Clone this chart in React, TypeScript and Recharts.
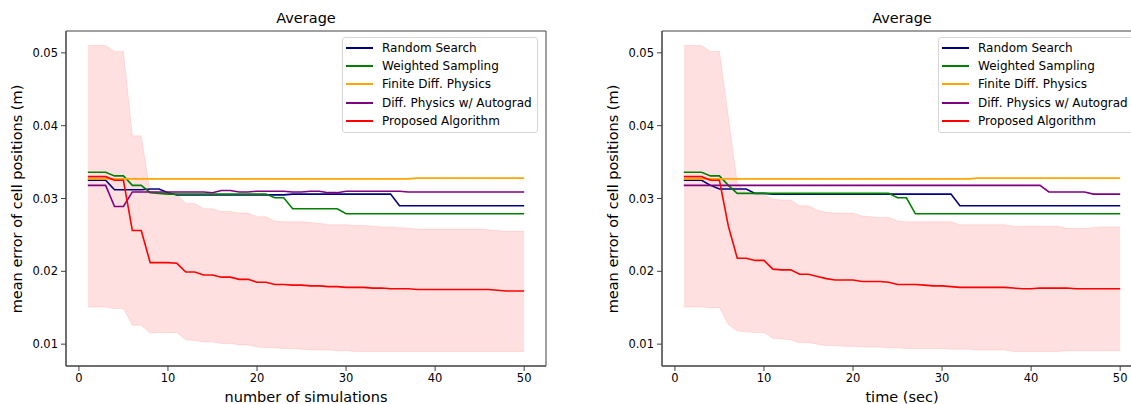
import React from 'react'
import { ComposedChart, Line, Area, XAxis, YAxis, ReferenceArea, Legend } from 'recharts'

// x values: number of simulations / time (sec)
const steps = [
  1, 2, 3, 4, 5, 6, 7, 8, 9, 10, 11, 12, 13, 14, 15, 16, 17, 18, 19, 20, 21, 22, 23, 24, 25,
  26, 27, 28, 29, 30, 31, 32, 33, 34, 35, 36, 37, 38, 39, 40, 41, 42, 43, 44, 45, 46, 47, 48, 49, 50,
]

const xTicks = [0, 10, 20, 30, 40, 50]
const yTicks = [0.01, 0.02, 0.03, 0.04, 0.05]

const seriesNames = [
  'Random Search',
  'Weighted Sampling',
  'Finite Diff. Physics',
  'Diff. Physics w/ Autograd',
  'Proposed Algorithm',
]
const seriesColors = ['#000080', '#008000', '#ffa500', '#800080', '#ff0000']

// ---- left panel: number of simulations ----
const rsSim = [
  0.0325, 0.0325, 0.0325, 0.0312, 0.0312, 0.0312, 0.0312, 0.0313, 0.0313, 0.0308,
  0.0305, 0.0305, 0.0305, 0.0305, 0.0305, 0.0305, 0.0305, 0.0305, 0.0305, 0.0305,
  0.0305, 0.0305, 0.0305, 0.0306, 0.0306, 0.0306, 0.0306, 0.0306, 0.0306, 0.0306,
  0.0306, 0.0306, 0.0306, 0.0306, 0.0306, 0.029, 0.029, 0.029, 0.029, 0.029,
  0.029, 0.029, 0.029, 0.029, 0.029, 0.029, 0.029, 0.029, 0.029, 0.029,
]
const wsSim = [
  0.0336, 0.0336, 0.0336, 0.0331, 0.0331, 0.0318, 0.0318, 0.0308, 0.0307, 0.0306,
  0.0306, 0.0306, 0.0306, 0.0306, 0.0306, 0.0306, 0.0306, 0.0306, 0.0306, 0.0306,
  0.0306, 0.0301, 0.0301, 0.0286, 0.0286, 0.0286, 0.0286, 0.0286, 0.0286, 0.0279,
  0.0279, 0.0279, 0.0279, 0.0279, 0.0279, 0.0279, 0.0279, 0.0279, 0.0279, 0.0279,
  0.0279, 0.0279, 0.0279, 0.0279, 0.0279, 0.0279, 0.0279, 0.0279, 0.0279, 0.0279,
]
const fdSim = [
  0.0327, 0.0327, 0.0327, 0.0327, 0.0327, 0.0327, 0.0327, 0.0327, 0.0327, 0.0327,
  0.0327, 0.0327, 0.0327, 0.0327, 0.0327, 0.0327, 0.0327, 0.0327, 0.0327, 0.0327,
  0.0327, 0.0327, 0.0327, 0.0327, 0.0327, 0.0327, 0.0327, 0.0327, 0.0327, 0.0327,
  0.0327, 0.0327, 0.0327, 0.0327, 0.0327, 0.0327, 0.0327, 0.0328, 0.0328, 0.0328,
  0.0328, 0.0328, 0.0328, 0.0328, 0.0328, 0.0328, 0.0328, 0.0328, 0.0328, 0.0328,
]
const agSim = [
  0.0318, 0.0318, 0.0318, 0.0289, 0.0289, 0.0309, 0.0309, 0.0309, 0.0309, 0.0309,
  0.0309, 0.0309, 0.0309, 0.0309, 0.0308, 0.0311, 0.0311, 0.0309, 0.0309, 0.031,
  0.031, 0.031, 0.031, 0.0309, 0.0309, 0.031, 0.031, 0.0308, 0.0308, 0.031,
  0.031, 0.031, 0.031, 0.031, 0.031, 0.031, 0.0309, 0.0309, 0.0309, 0.0309,
  0.0309, 0.0309, 0.0309, 0.0309, 0.0309, 0.0309, 0.0309, 0.0309, 0.0309, 0.0309,
]
const paSim = [
  0.033, 0.033, 0.033, 0.0325, 0.0325, 0.0256, 0.0256, 0.0212, 0.0212, 0.0212,
  0.0211, 0.0199, 0.0199, 0.0195, 0.0195, 0.0192, 0.0192, 0.0189, 0.0189, 0.0185,
  0.0185, 0.0182, 0.0182, 0.0181, 0.0181, 0.018, 0.018, 0.0179, 0.0179, 0.0178,
  0.0178, 0.0178, 0.0177, 0.0177, 0.0176, 0.0176, 0.0176, 0.0175, 0.0175, 0.0175,
  0.0175, 0.0175, 0.0175, 0.0175, 0.0175, 0.0175, 0.0174, 0.0173, 0.0173, 0.0173,
]
const hiSim = [
  0.051, 0.051, 0.051, 0.0502, 0.0502, 0.0386, 0.0386, 0.0309, 0.0308, 0.0307,
  0.0306, 0.0293, 0.0293, 0.0286, 0.0286, 0.0282, 0.0282, 0.028, 0.028, 0.0275,
  0.0275, 0.0269, 0.0268, 0.0268, 0.0268, 0.0267, 0.0266, 0.0264, 0.0264, 0.0264,
  0.0263, 0.0263, 0.0262, 0.0261, 0.0261, 0.026, 0.0259, 0.0258, 0.0258, 0.0258,
  0.0258, 0.0258, 0.0258, 0.0258, 0.0258, 0.0257, 0.0256, 0.0255, 0.0255, 0.0255,
]
const loSim = [
  0.0151, 0.0151, 0.0151, 0.0149, 0.0149, 0.0126, 0.0126, 0.0115, 0.0116, 0.0116,
  0.0116, 0.0106, 0.0105, 0.0103, 0.0103, 0.0101, 0.0101, 0.0099, 0.0099, 0.0096,
  0.0095, 0.0095, 0.0094, 0.0094, 0.0093, 0.0092, 0.0092, 0.0092, 0.0091, 0.0091,
  0.009, 0.009, 0.009, 0.009, 0.009, 0.009, 0.009, 0.009, 0.009, 0.009,
  0.009, 0.009, 0.009, 0.009, 0.009, 0.009, 0.009, 0.009, 0.009, 0.009,
]

// ---- right panel: time (sec) ----
const rsTime = [
  0.0325, 0.0325, 0.0325, 0.0318, 0.0313, 0.0313, 0.0313, 0.0313, 0.0307, 0.0307,
  0.0306, 0.0306, 0.0306, 0.0306, 0.0306, 0.0306, 0.0306, 0.0306, 0.0306, 0.0306,
  0.0306, 0.0306, 0.0306, 0.0306, 0.0306, 0.0306, 0.0306, 0.0306, 0.0306, 0.0306,
  0.0306, 0.029, 0.029, 0.029, 0.029, 0.029, 0.029, 0.029, 0.029, 0.029,
  0.029, 0.029, 0.029, 0.029, 0.029, 0.029, 0.029, 0.029, 0.029, 0.029,
]
const wsTime = [
  0.0336, 0.0336, 0.0336, 0.0331, 0.0331, 0.0318, 0.0307, 0.0307, 0.0307, 0.0307,
  0.0307, 0.0307, 0.0307, 0.0307, 0.0307, 0.0307, 0.0307, 0.0307, 0.0307, 0.0307,
  0.0307, 0.0307, 0.0307, 0.0307, 0.0301, 0.0301, 0.0279, 0.0279, 0.0279, 0.0279,
  0.0279, 0.0279, 0.0279, 0.0279, 0.0279, 0.0279, 0.0279, 0.0279, 0.0279, 0.0279,
  0.0279, 0.0279, 0.0279, 0.0279, 0.0279, 0.0279, 0.0279, 0.0279, 0.0279, 0.0279,
]
const fdTime = [
  0.0327, 0.0327, 0.0327, 0.0327, 0.0327, 0.0327, 0.0327, 0.0327, 0.0327, 0.0327,
  0.0327, 0.0327, 0.0327, 0.0327, 0.0327, 0.0327, 0.0327, 0.0327, 0.0327, 0.0327,
  0.0327, 0.0327, 0.0327, 0.0327, 0.0327, 0.0327, 0.0327, 0.0327, 0.0327, 0.0327,
  0.0327, 0.0327, 0.0327, 0.0328, 0.0328, 0.0328, 0.0328, 0.0328, 0.0328, 0.0328,
  0.0328, 0.0328, 0.0328, 0.0328, 0.0328, 0.0328, 0.0328, 0.0328, 0.0328, 0.0328,
]
const agTime = [
  0.0318, 0.0318, 0.0318, 0.0318, 0.0318, 0.0318, 0.0318, 0.0318, 0.0318, 0.0318,
  0.0318, 0.0318, 0.0318, 0.0318, 0.0318, 0.0318, 0.0318, 0.0318, 0.0318, 0.0318,
  0.0318, 0.0318, 0.0318, 0.0318, 0.0318, 0.0318, 0.0318, 0.0318, 0.0318, 0.0318,
  0.0318, 0.0318, 0.0318, 0.0318, 0.0318, 0.0318, 0.0318, 0.0318, 0.0318, 0.0318,
  0.0318, 0.0309, 0.0309, 0.0309, 0.0309, 0.0309, 0.0306, 0.0306, 0.0306, 0.0306,
]
const paTime = [
  0.033, 0.033, 0.033, 0.0325, 0.0325, 0.0262, 0.0218, 0.0218, 0.0215, 0.0215,
  0.0203, 0.0202, 0.0202, 0.0196, 0.0196, 0.0193, 0.019, 0.0188, 0.0188, 0.0188,
  0.0186, 0.0186, 0.0186, 0.0185, 0.0182, 0.0182, 0.0182, 0.0181, 0.018, 0.018,
  0.0179, 0.0178, 0.0178, 0.0178, 0.0178, 0.0178, 0.0178, 0.0177, 0.0176, 0.0176,
  0.0177, 0.0177, 0.0177, 0.0177, 0.0176, 0.0176, 0.0176, 0.0176, 0.0176, 0.0176,
]
const hiTime = [
  0.051, 0.051, 0.051, 0.0502, 0.0502, 0.0412, 0.0321, 0.0309, 0.0305, 0.0305,
  0.0299, 0.0298, 0.0298, 0.029, 0.029, 0.0284, 0.0281, 0.028, 0.028, 0.028,
  0.0276, 0.0275, 0.0274, 0.0274, 0.0269, 0.0268, 0.0268, 0.0268, 0.0268, 0.0268,
  0.0268, 0.0264, 0.0264, 0.0264, 0.0264, 0.0264, 0.0264, 0.0262, 0.0262, 0.0262,
  0.0262, 0.0262, 0.0262, 0.0259, 0.0259, 0.0259, 0.026, 0.0261, 0.0261, 0.0261,
]
const loTime = [
  0.0151, 0.0151, 0.0151, 0.015, 0.015, 0.0127, 0.0118, 0.0117, 0.0116, 0.0116,
  0.0108, 0.0107, 0.0106, 0.0102, 0.0102, 0.01, 0.0098, 0.0098, 0.0097, 0.0097,
  0.0096, 0.0096, 0.0096, 0.0095, 0.0095, 0.0094, 0.0094, 0.0094, 0.0094, 0.0094,
  0.0093, 0.0093, 0.0093, 0.0092, 0.0092, 0.0092, 0.0092, 0.009, 0.009, 0.009,
  0.009, 0.009, 0.009, 0.0091, 0.0091, 0.0091, 0.0091, 0.0091, 0.0091, 0.0091,
]

const FONT = '"DejaVu Sans", sans-serif'
const CHART_W = 560
const CHART_H = 404
const MARGIN = { top: 31, right: 14, bottom: 8, left: 21 }
const Y_AXIS_W = 45
const X_AXIS_H = 30
const X_DOMAIN: [number, number] = [-1.45, 52.45]
const Y_DOMAIN: [number, number] = [0.007, 0.053]
const SPINE = '#404040'

function LegendBox() {
  return (
    <div
      style={{
        display: 'inline-block',
        border: '1px solid #d6d6d6',
        borderRadius: 3,
        background: 'rgba(255,255,255,0.8)',
        padding: '1px 5px 2px 3px',
        fontFamily: FONT,
        fontSize: 12,
        color: '#000',
        whiteSpace: 'nowrap',
      }}
    >
      {seriesNames.map((name, i) => (
        <div key={name} style={{ display: 'flex', alignItems: 'center', height: 18.2 }}>
          <span
            style={{
              display: 'inline-block',
              width: 27,
              height: 2,
              background: seriesColors[i],
              marginRight: 9,
            }}
          />
          <span>{name}</span>
        </div>
      ))}
    </div>
  )
}

interface PanelProps {
  left: number
  xLabel: string
  lines: number[][]
  lo: number[]
  hi: number[]
}

function Panel({ left, xLabel, lines, lo, hi }: PanelProps) {
  const data = steps.map((t, i) => {
    const row: Record<string, any> = { t, band: [lo[i], hi[i]] }
    lines.forEach((s, k) => {
      row['s' + k] = s[i]
    })
    return row
  })

  const plotLeft = MARGIN.left + Y_AXIS_W
  const plotW = CHART_W - plotLeft - MARGIN.right
  const plotH = CHART_H - MARGIN.top - MARGIN.bottom - X_AXIS_H
  const textStyle = { fontFamily: FONT, fontSize: 14.5, color: '#000', lineHeight: '20px' }

  return (
    <div style={{ position: 'absolute', left, top: 0, width: CHART_W, height: CHART_H }}>
      <ComposedChart width={CHART_W} height={CHART_H} data={data} margin={MARGIN}>
        <XAxis
          dataKey="t"
          type="number"
          domain={X_DOMAIN}
          ticks={xTicks}
          height={X_AXIS_H}
          tickSize={5}
          tickMargin={3}
          tick={{ fontSize: 11.5, fontFamily: FONT, fill: '#000' }}
          tickLine={{ stroke: SPINE }}
          axisLine={{ stroke: SPINE }}
        />
        <YAxis
          type="number"
          domain={Y_DOMAIN}
          ticks={yTicks}
          width={Y_AXIS_W}
          tickSize={5}
          tickMargin={3}
          tickFormatter={(v: number) => v.toFixed(2)}
          tick={{ fontSize: 11.5, fontFamily: FONT, fill: '#000' }}
          tickLine={{ stroke: SPINE }}
          axisLine={{ stroke: SPINE }}
        />
        <Area
          dataKey="band"
          type="linear"
          fill="#ff0000"
          fillOpacity={0.12}
          stroke="#ff0000"
          strokeOpacity={0.1}
          dot={false}
          activeDot={false}
          legendType="none"
          isAnimationActive={false}
        />
        {lines.map((_, k) => (
          <Line
            key={k}
            dataKey={'s' + k}
            name={seriesNames[k]}
            type="linear"
            stroke={seriesColors[k]}
            strokeWidth={1.6}
            dot={false}
            activeDot={false}
            isAnimationActive={false}
          />
        ))}
        <ReferenceArea
          x1={X_DOMAIN[0]}
          x2={X_DOMAIN[1]}
          y1={Y_DOMAIN[0]}
          y2={Y_DOMAIN[1]}
          fill="none"
          fillOpacity={0}
          stroke={SPINE}
          strokeWidth={1}
          ifOverflow="visible"
        />
        <Legend
          layout="horizontal"
          verticalAlign="middle"
          align="center"
          wrapperStyle={{ left: 342, top: 37, width: 'auto' }}
          content={() => <LegendBox />}
        />
      </ComposedChart>
      <div
        style={{
          ...textStyle,
          position: 'absolute',
          left: plotLeft,
          width: plotW,
          top: 8,
          textAlign: 'center',
        }}
      >
        Average
      </div>
      <div
        style={{
          ...textStyle,
          position: 'absolute',
          left: plotLeft,
          width: plotW,
          top: 387,
          textAlign: 'center',
        }}
      >
        {xLabel}
      </div>
      <div
        style={{
          ...textStyle,
          position: 'absolute',
          left: 17 - 160,
          top: MARGIN.top + plotH / 2 - 10,
          width: 320,
          textAlign: 'center',
          transform: 'rotate(-90deg)',
        }}
      >
        mean error of cell positions (m)
      </div>
    </div>
  )
}

export default function App() {
  return (
    <div
      style={{
        position: 'absolute',
        left: 0,
        top: 0,
        width: 1131,
        height: 404,
        overflow: 'hidden',
        background: '#fff',
      }}
    >
      <Panel
        left={0}
        xLabel="number of simulations"
        lines={[rsSim, wsSim, fdSim, agSim, paSim]}
        lo={loSim}
        hi={hiSim}
      />
      <Panel
        left={596}
        xLabel="time (sec)"
        lines={[rsTime, wsTime, fdTime, agTime, paTime]}
        lo={loTime}
        hi={hiTime}
      />
    </div>
  )
}
